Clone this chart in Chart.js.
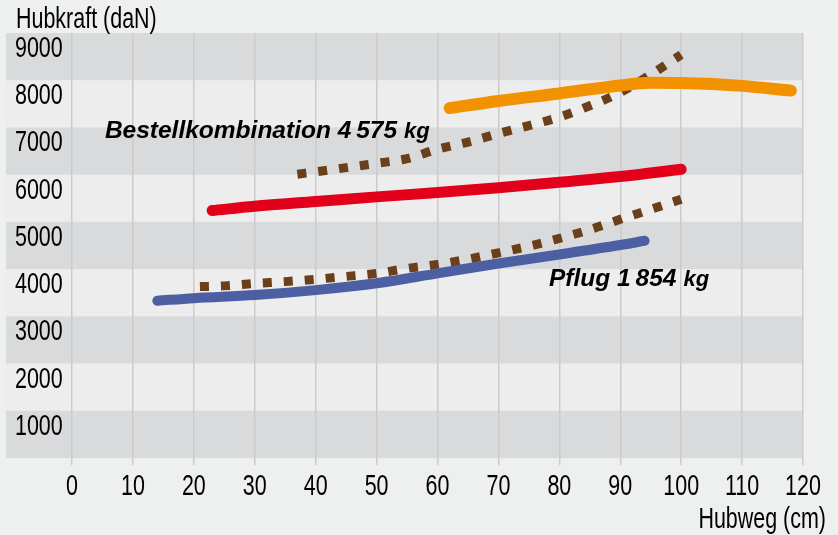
<!DOCTYPE html>
<html>
<head>
<meta charset="utf-8">
<script src="https://cdn.jsdelivr.net/npm/chart.js@4.4.1/dist/chart.umd.min.js"></script>
<style>
  html, body { margin: 0; padding: 0; background: #edf0ee; }
  #wrap { width: 838px; height: 535px; }
</style>
</head>
<body>
<div id="wrap"><canvas id="Hubkraft_Chart"></canvas></div>
<script>
// Hubkraft (daN) über Hubweg (cm)
const xTicks = [0, 10, 20, 30, 40, 50, 60, 70, 80, 90, 100, 110, 120];
const yTicks = [0, 1000, 2000, 3000, 4000, 5000, 6000, 7000, 8000, 9000];
const grayBands = [0, 2000, 4000, 6000, 8000];

// Hubkraft Traktor (orange, oben)
const orangeX = [62, 70, 80, 90, 95, 100, 110, 118];
const orangeY = [7410, 7560, 7720, 7890, 7945, 7940, 7880, 7780];

// benötigte Hubkraft Bestellkombination 4575 kg
const bestellX = [37, 40, 45, 50, 55, 60, 65, 70, 75, 80, 85, 90, 95, 100];
const bestellY = [6010, 6060, 6150, 6240, 6340, 6540, 6690, 6870, 7040, 7220, 7460, 7740, 8120, 8540];

// Hubkraft Traktor (rot, Mitte)
const redX = [23, 30, 40, 50, 60, 70, 80, 90, 100];
const redY = [5240, 5330, 5430, 5530, 5620, 5725, 5840, 5960, 6115];

// benötigte Hubkraft Pflug 1854 kg
const pflugX = [21, 25, 30, 35, 40, 45, 50, 55, 60, 65, 70, 75, 80, 85, 90, 95, 100];
const pflugY = [3630, 3645, 3695, 3735, 3785, 3845, 3910, 4015, 4100, 4210, 4345, 4485, 4650, 4835, 5055, 5265, 5480];

// Hubkraft Traktor (blau, unten)
const blueX = [14, 20, 30, 40, 50, 60, 70, 80, 90, 94];
const blueY = [3330, 3385, 3450, 3555, 3700, 3910, 4120, 4310, 4510, 4600];

const toPoints = (xs, ys) => xs.map((x, i) => ({ x: x, y: ys[i] }));

const axisFont = "29px 'Liberation Sans', Arial, sans-serif";
const boldItalic = "'Liberation Sans', Arial, sans-serif";

// schmale Schrift: normale Schrift horizontal gestaucht
function narrowText(ctx, text, x, y, align) {
    ctx.save();
    ctx.translate(x, y);
    ctx.scale(0.74, 1);
    ctx.textAlign = align;
    ctx.fillText(text, 0, 0);
    ctx.restore();
}

// Hintergrundstreifen
const bandPlugin = {
    id: 'bands',
    beforeDraw(chart) {
        const { ctx, chartArea, scales } = chart;
        const y = scales.y;
        const left = 6;
        ctx.save();
        ctx.fillStyle = '#ecedec';
        ctx.fillRect(left, chartArea.top, chartArea.right - left, chartArea.bottom - chartArea.top);
        ctx.fillStyle = '#d9dadc';
        grayBands.forEach(v => {
            const top = y.getPixelForValue(v + 1000);
            const bottom = y.getPixelForValue(v);
            ctx.fillRect(left, top, chartArea.right - left, bottom - top);
        });
        ctx.restore();
    }
};

// Achsenbeschriftung, Achsentitel und Kurvennamen
const textPlugin = {
    id: 'texts',
    afterDatasetsDraw(chart) {
        const { ctx, scales } = chart;
        ctx.save();
        ctx.fillStyle = '#000';
        ctx.textBaseline = 'alphabetic';
        ctx.font = axisFont;

        scales.y.ticks.forEach(t => {
            if (t.value === 0) return;
            narrowText(ctx, String(t.value), 15, scales.y.getPixelForValue(t.value) + 24, 'left');
        });
        scales.x.ticks.forEach(t => {
            narrowText(ctx, String(t.value), scales.x.getPixelForValue(t.value), 495, 'center');
        });
        narrowText(ctx, 'Hubkraft (daN)', 16, 28, 'left');
        narrowText(ctx, 'Hubweg (cm)', 826, 528, 'right');

        ctx.textAlign = 'left';
        const label = (text, unit, xv, yv) => {
            const px = scales.x.getPixelForValue(xv);
            const py = scales.y.getPixelForValue(yv);
            ctx.font = 'italic bold 24.5px ' + boldItalic;
            ctx.fillText(text, px, py);
            const w = ctx.measureText(text).width;
            ctx.font = 'italic bold 22px ' + boldItalic;
            ctx.fillText(unit, px + w + 7, py);
        };
        label('Bestellkombination 4\u2009575', 'kg', 5.4, 6780);
        label('Pflug 1\u2009854', 'kg', 78.3, 3640);
        ctx.restore();
    }
};

const solid = (data, color, width) => ({
    data: data,
    borderColor: color,
    borderWidth: width,
    borderCapStyle: 'round',
    cubicInterpolationMode: 'monotone',
    pointRadius: 0,
    fill: false
});

const dotted = (data) => ({
    data: data,
    borderColor: '#6b3f1a',
    borderWidth: 9,
    borderDash: [9, 12],
    borderCapStyle: 'butt',
    cubicInterpolationMode: 'monotone',
    pointRadius: 0,
    fill: false
});

var ctx = document.getElementById('Hubkraft_Chart').getContext('2d');
var myChart = new Chart(ctx, {
    type: 'line',
    data: {
        datasets: [
            solid(toPoints(blueX, blueY), '#4d5fa3', 10),
            solid(toPoints(redX, redY), '#e2001a', 11),
            solid(toPoints(orangeX, orangeY), '#f39200', 12),
            dotted(toPoints(pflugX, pflugY)),
            dotted(toPoints(bestellX, bestellY))
        ]
    },
    options: {
        responsive: true,
        maintainAspectRatio: false,
        animation: false,
        layout: { padding: { left: 15, right: 35, top: 33, bottom: 27 } },
        plugins: {
            legend: { display: false },
            tooltip: { enabled: false }
        },
        scales: {
            x: {
                type: 'linear',
                min: 0,
                max: 120,
                afterBuildTicks: scale => { scale.ticks = xTicks.map(v => ({ value: v })); },
                afterFit: scale => { scale.height = 50; },
                grid: { color: '#cbcbcb', lineWidth: 1.5, tickLength: 7 },
                border: { display: false },
                ticks: { display: false }
            },
            y: {
                min: 0,
                max: 9000,
                afterBuildTicks: scale => { scale.ticks = yTicks.map(v => ({ value: v })); },
                afterFit: scale => { scale.width = 57; },
                grid: { display: false },
                border: { display: false },
                ticks: { display: false }
            }
        }
    },
    plugins: [bandPlugin, textPlugin]
});
</script>
</body>
</html>
